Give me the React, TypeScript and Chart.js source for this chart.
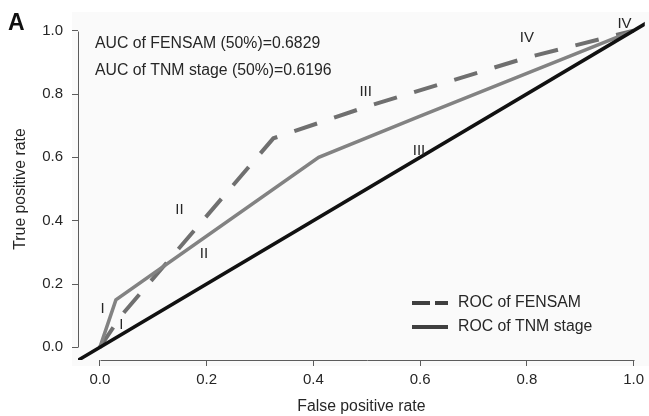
import React, { useEffect, useRef } from 'react';
import { Chart, registerables } from 'chart.js';

Chart.register(...registerables);

// ROC points (false positive rate, true positive rate)
const fensamX = [0, 0.04, 0.325, 0.5, 0.8, 1];
const fensamY = [0, 0.1, 0.66, 0.76, 0.915, 1];
const tnmX = [0, 0.03, 0.41, 0.6, 1];
const tnmY = [0, 0.15, 0.6, 0.73, 1];
const diagonalX = [-0.06, 1.06];
const diagonalY = [-0.06, 1.06];

// stage labels placed next to the ROC points
const stageNames = ['I', 'II', 'III', 'IV'];
const fensamLabelX = [0.04, 0.149, 0.498, 0.8];
const fensamLabelY = [0.07, 0.434, 0.806, 0.978];
const tnmLabelX = [0.005, 0.195, 0.598, 0.983];
const tnmLabelY = [0.12, 0.294, 0.622, 1.022];

const xTicks = [0, 0.2, 0.4, 0.6, 0.8, 1.0];
const yTicks = [0, 0.2, 0.4, 0.6, 0.8, 1.0];
const xTickLabels = ['0.0', '0.2', '0.4', '0.6', '0.8', '1.0'];
const yTickLabels = ['0.0', '0.2', '0.4', '0.6', '0.8', '1.0'];

const aucLines = ['AUC of FENSAM (50%)=0.6829', 'AUC of TNM stage (50%)=0.6196'];
const legendLabels = ['ROC of FENSAM', 'ROC of TNM stage'];
const panelLetter = 'A';
const xTitle = 'False positive rate';
const yTitle = 'True positive rate';

const FONT = '"Liberation Sans", Arial, Helvetica, sans-serif';
const TEXT = '#262626';
const AXIS = '#5c5c5c';

export default function App() {
  const ref = useRef<HTMLCanvasElement>(null);

  useEffect(() => {
    const canvas = ref.current;
    if (!canvas) return;

    const overlay = {
      id: 'overlay',
      beforeDraw(chart: any) {
        const { ctx } = chart;
        ctx.save();
        ctx.fillStyle = '#fafafa';
        ctx.fillRect(72, 12, 649 - 72, 354);
        ctx.restore();
      },
      afterDraw(chart: any) {
        const { ctx, chartArea } = chart;
        const xs = chart.scales.x;
        const ys = chart.scales.y;
        ctx.save();
        // R-style axis lines spanning first to last tick
        ctx.strokeStyle = AXIS;
        ctx.lineWidth = 1;
        ctx.beginPath();
        const bx = Math.round(chartArea.bottom) + 0.5;
        ctx.moveTo(Math.round(xs.getPixelForValue(xTicks[0])) + 0.5, bx);
        ctx.lineTo(Math.round(xs.getPixelForValue(xTicks[xTicks.length - 1])) + 0.5, bx);
        const lx = Math.round(chartArea.left) + 0.5;
        ctx.moveTo(lx, Math.round(ys.getPixelForValue(yTicks[0])) + 0.5);
        ctx.lineTo(lx, Math.round(ys.getPixelForValue(yTicks[yTicks.length - 1])) + 0.5);
        ctx.stroke();

        // stage labels
        ctx.fillStyle = TEXT;
        ctx.font = `15px ${FONT}`;
        ctx.textAlign = 'center';
        ctx.textBaseline = 'middle';
        stageNames.forEach((s, i) => {
          ctx.fillText(s, xs.getPixelForValue(fensamLabelX[i]), ys.getPixelForValue(fensamLabelY[i]));
          ctx.fillText(s, xs.getPixelForValue(tnmLabelX[i]), ys.getPixelForValue(tnmLabelY[i]));
        });

        // AUC annotations
        ctx.font = `15.8px ${FONT}`;
        ctx.textAlign = 'left';
        aucLines.forEach((t, i) => {
          ctx.fillText(t, chartArea.left + 17, chartArea.top + 26 + i * 26.5);
        });

        // legend
        const lgX0 = 412;
        const lgX1 = 448;
        const lgY = [303, 327];
        ctx.strokeStyle = '#3f3f3f';
        ctx.lineWidth = 4;
        ctx.lineCap = 'butt';
        ctx.setLineDash([18, 5]);
        ctx.beginPath();
        ctx.moveTo(lgX0, lgY[0]);
        ctx.lineTo(lgX1, lgY[0]);
        ctx.stroke();
        ctx.setLineDash([]);
        ctx.beginPath();
        ctx.moveTo(lgX0, lgY[1]);
        ctx.lineTo(lgX1, lgY[1]);
        ctx.stroke();
        ctx.fillStyle = TEXT;
        legendLabels.forEach((t, i) => {
          ctx.fillText(t, 458, lgY[i]);
        });

        // panel letter
        ctx.font = `bold 23px ${FONT}`;
        ctx.fillStyle = '#111';
        ctx.textBaseline = 'alphabetic';
        ctx.fillText(panelLetter, 8, 30);
        ctx.restore();
      },
    };

    const chart = new Chart(canvas, {
      type: 'line',
      data: {
        datasets: [
          {
            label: legendLabels[0],
            data: fensamX.map((v, i) => ({ x: v, y: fensamY[i] })),
            borderColor: '#6f6f6f',
            borderWidth: 4,
            borderDash: [24, 18],
            pointRadius: 0,
            tension: 0,
            order: 3,
          },
          {
            label: legendLabels[1],
            data: tnmX.map((v, i) => ({ x: v, y: tnmY[i] })),
            borderColor: '#828282',
            borderWidth: 3.5,
            pointRadius: 0,
            tension: 0,
            order: 2,
          },
          {
            label: 'Reference',
            data: diagonalX.map((v, i) => ({ x: v, y: diagonalY[i] })),
            borderColor: '#111111',
            borderWidth: 3.5,
            pointRadius: 0,
            tension: 0,
            order: 1,
            clip: 0,
          },
        ],
      },
      options: {
        animation: false,
        responsive: false,
        devicePixelRatio: 1,
        layout: { padding: { left: 0, right: 0, top: 14.4, bottom: 0 } },
        plugins: { legend: { display: false }, tooltip: { enabled: false } },
        scales: {
          x: {
            type: 'linear',
            min: -0.041,
            max: 1.021,
            afterBuildTicks: (s: any) => {
              s.ticks = xTicks.map((v) => ({ value: v }));
            },
            afterFit: (s: any) => {
              s.height = 56;
            },
            grid: { display: true, drawOnChartArea: false, drawTicks: true, tickLength: 6, color: AXIS },
            border: { display: false },
            ticks: {
              padding: 5,
              autoSkip: false,
              maxRotation: 0,
              color: TEXT,
              font: { family: FONT, size: 15 },
              callback: (_v: any, i: number) => xTickLabels[i],
            },
            title: {
              display: true,
              text: xTitle,
              color: TEXT,
              font: { family: FONT, size: 15.8 },
              padding: { top: 0, bottom: 0 },
            },
          },
          y: {
            type: 'linear',
            min: -0.04,
            max: 1.04,
            afterBuildTicks: (s: any) => {
              s.ticks = yTicks.map((v) => ({ value: v }));
            },
            afterFit: (s: any) => {
              s.width = 78;
            },
            grid: { display: true, drawOnChartArea: false, drawTicks: true, tickLength: 6, color: AXIS },
            border: { display: false },
            ticks: {
              padding: 9,
              autoSkip: false,
              color: TEXT,
              font: { family: FONT, size: 15 },
              callback: (_v: any, i: number) => yTickLabels[i],
            },
            title: {
              display: true,
              text: yTitle,
              color: TEXT,
              font: { family: FONT, size: 15.8 },
              padding: { top: 11, bottom: 0 },
            },
          },
        },
      },
      plugins: [overlay],
    } as any);

    return () => chart.destroy();
  }, []);

  return (
    <div style={{ position: 'fixed', left: 0, top: 0, width: 649, height: 416, background: '#fff' }}>
      <canvas ref={ref} width={649} height={416} style={{ display: 'block', width: 649, height: 416 }} />
    </div>
  );
}
